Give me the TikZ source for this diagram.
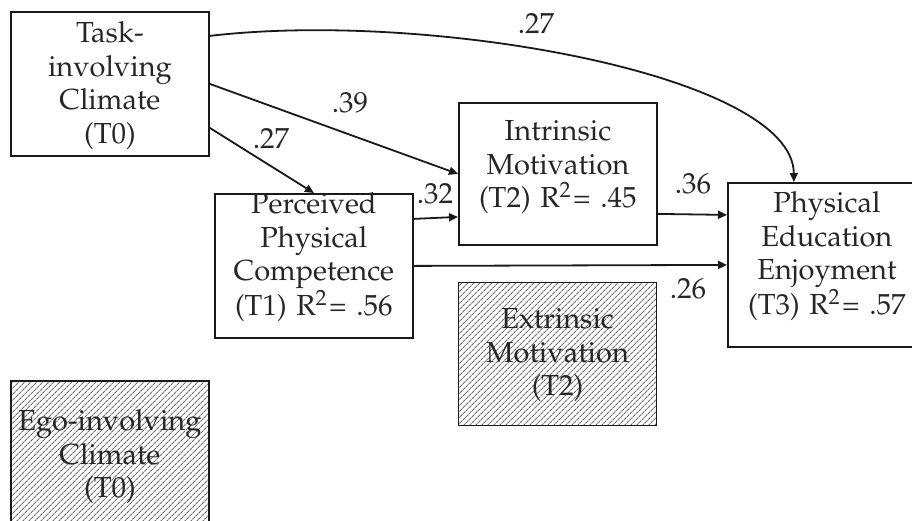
\documentclass[tikz,border=0pt]{standalone}
\usepackage[T1]{fontenc}
\usepackage{mathpazo}
\usetikzlibrary{arrows.meta,patterns.meta}

\newcommand{\rsq}[1]{R\textsuperscript{2}\kern2pt= #1}

\tikzset{
  var/.style={draw=black!90, line width=1.8pt, anchor=north west, inner xsep=0pt, inner ysep=0pt,
    text width=198pt, align=center, text=black!85, font=\fontsize{29}{33.5}\selectfont},
  hatched/.style={var, pattern={Lines[angle=45,distance=4pt,line width=1.1pt]}, pattern color=black!55},
  coef/.style={anchor=base, inner sep=0pt, text=black!85, font=\fontsize{29}{30}\selectfont}
}

\begin{document}
\begin{tikzpicture}[x=1pt,y=-1pt,>={Triangle[length=9pt,width=8pt]}]
  \useasboundingbox (0,0) rectangle (912,520);
  % variables
  \node[var, text height=31pt, text depth=113pt] (task) at (10,11) {Task-\\involving\\Climate\\(T0)};
  \node[var, text height=20pt, text depth=124pt] (perc) at (214,193) {Perceived\\Physical\\Competence\\(T1) \rsq{.56}};
  \node[var, text height=38pt, text depth=104pt] (intr) at (458,102) {Intrinsic\\Motivation\\(T2) \rsq{.45}};
  \node[var, text height=30pt, text depth=134pt] (phys) at (727,182) {Physical\\Education\\Enjoyment\\(T3) \rsq{.57}};
  \node[hatched, text height=46pt, text depth=97pt] (extr) at (458,282) {Extrinsic\\Motivation\\(T2)};
  \node[hatched, text height=50pt, text depth=110pt] (ego) at (10,380) {Ego-involving\\Climate\\(T0)};
  % paths
  \begin{scope}[line width=1.8pt, draw=black!90]
    \draw[->] ([yshift=48pt]task.east) .. controls (430,10) and (793,75) .. ([xshift=-33pt]phys.north);
    \draw[->] (task.east) -- (intr.west);
    \draw[->] ([yshift=-44pt]task.east) -- (perc.north);
    \draw[->] ([yshift=47pt]perc.east) -- ([yshift=-43pt]intr.west);
    \draw[->] (perc.east) -- (phys.west);
    \draw[->] ([yshift=-40pt]intr.east) -- ([yshift=50pt]phys.west);
  \end{scope}
  % coefficients
  \node[coef] (c1) at (536,33) {.27};
  \node[coef] (c2) at (350,112) {.39};
  \node[coef] (c3) at (271,148) {.27};
  \node[coef] (c4) at (435,203) {.32};
  \node[coef] (c5) at (693,193) {.36};
  \node[coef] (c6) at (688,298) {.26};
\end{tikzpicture}
\end{document}
